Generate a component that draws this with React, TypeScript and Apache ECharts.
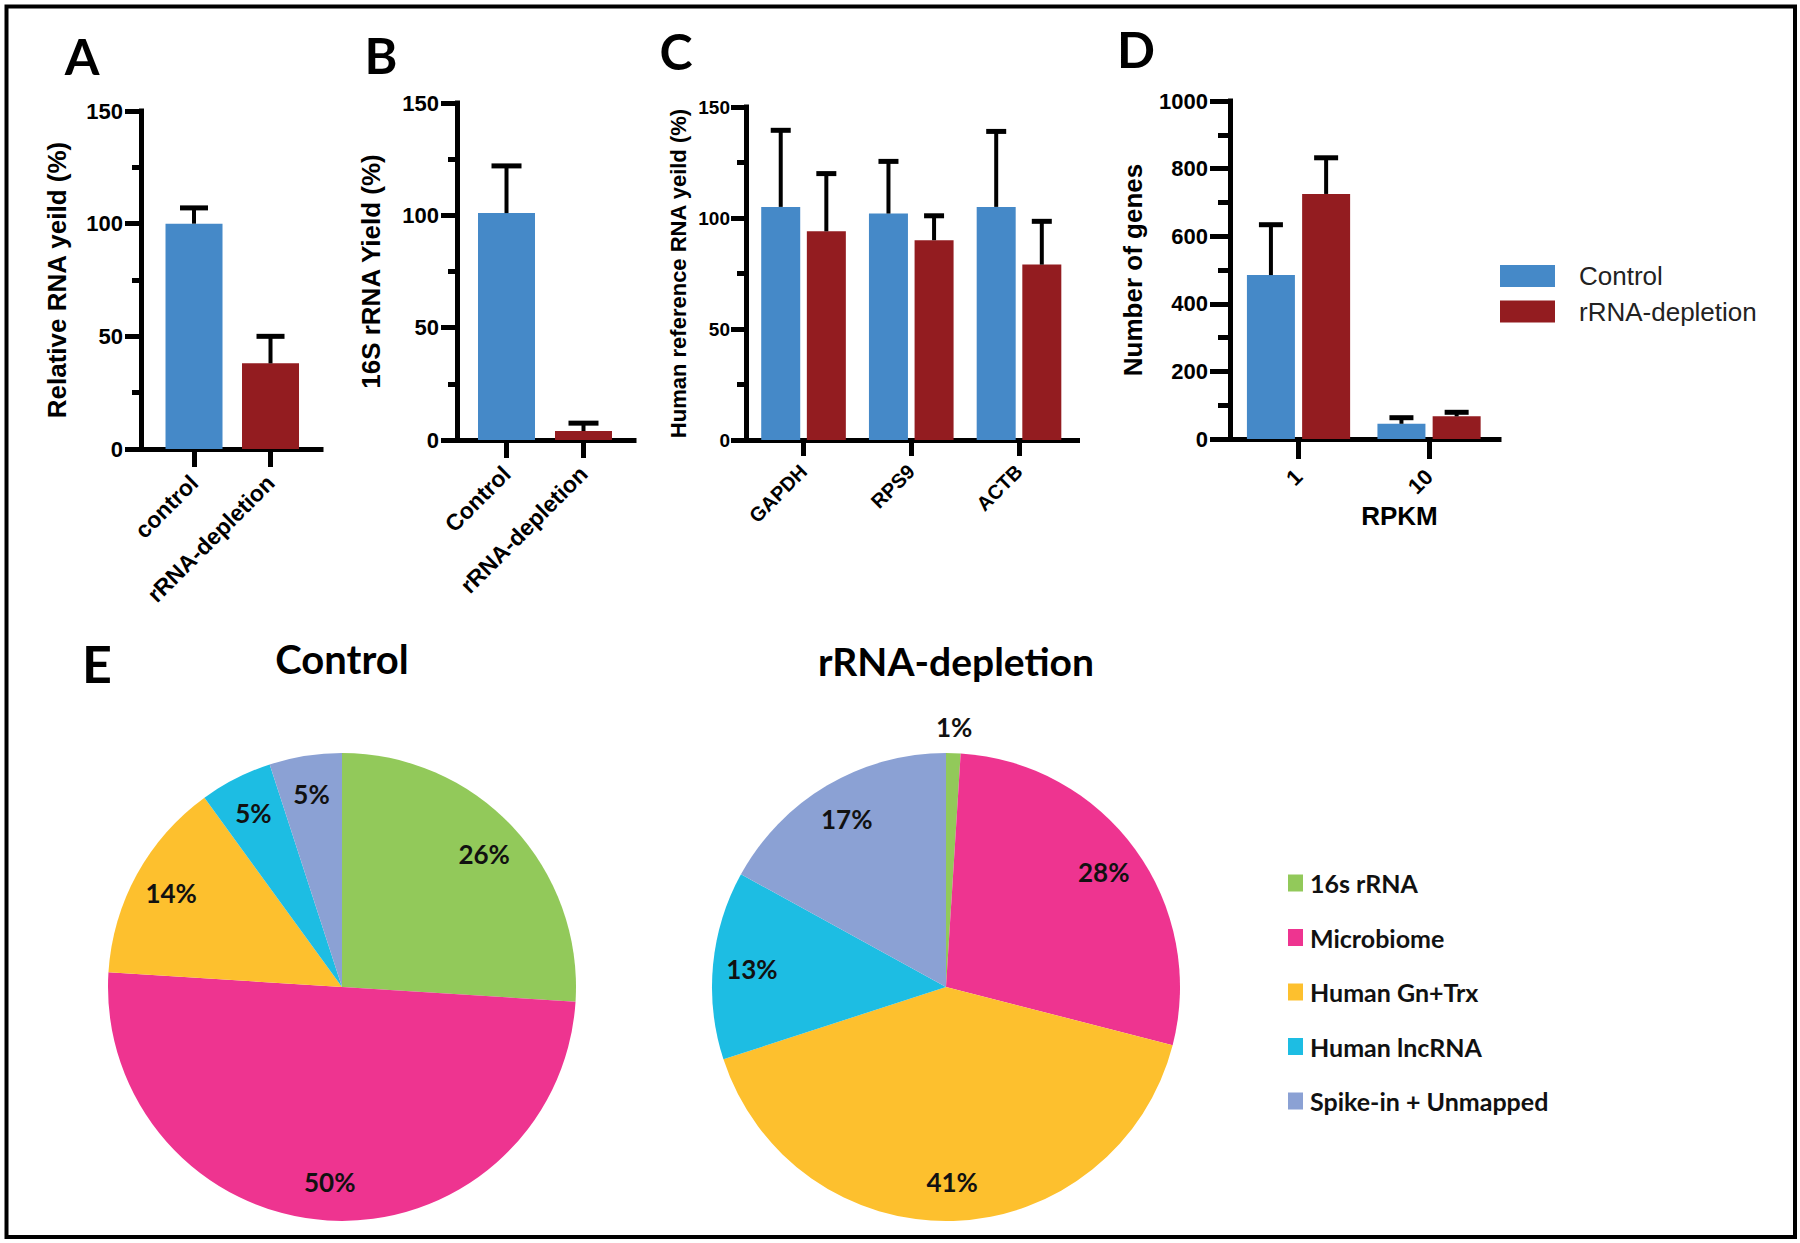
import React, { useEffect, useRef } from "react";
import * as echarts from "echarts";

// ---------- data ----------
const aCategories = ["control", "rRNA-depletion"];
const aValues = [100, 38];
const aErrors = [7, 12];

const bCategories = ["Control", "rRNA-depletion"];
const bValues = [101, 4];
const bErrors = [21, 3.5];

const cCategories = ["GAPDH", "RPS9", "ACTB"];
const cControl = [105, 102, 105];
const cControlErr = [34.5, 23.5, 34];
const cDepletion = [94, 90, 79];
const cDepletionErr = [26, 11, 19.5];

const dCategories = ["1", "10"];
const dControl = [485, 45];
const dControlErr = [149, 18];
const dDepletion = [725, 67];
const dDepletionErr = [107, 12];

const seriesNames = ["Control", "rRNA-depletion"];

const pieCategories = ["16s rRNA", "Microbiome", "Human Gn+Trx", "Human lncRNA", "Spike-in + Unmapped"];
const pieControl = [26, 50, 14, 5, 5];
const pieDepletion = [1, 28, 41, 13, 17];

// ---------- styles ----------
const BLUE = "#4589C8";
const RED = "#931C20";
const pieColors = ["#92C95A", "#EE3490", "#FDC02E", "#1DBDE3", "#8BA1D4"];
const SANS = "'Liberation Sans', Arial, Helvetica, sans-serif";
const CAL = "Lato, 'Open Sans', sans-serif";

function xAxisCfg(gridIndex: number, min: number, max: number, cats: string[], o: any) {
  const vals = cats.map((_, i) => i);
  return {
    type: "value",
    gridIndex,
    min,
    max,
    axisLine: { show: true, onZero: false, lineStyle: { color: "#000", width: 5, cap: "square" } },
    axisTick: { show: true, customValues: vals, length: o.tickLen, lineStyle: { color: "#000", width: 5 } },
    minorTick: { show: false },
    splitLine: { show: false },
    axisLabel: {
      show: true,
      customValues: vals,
      formatter: (v: number) => cats[Math.round(v)] ?? "",
      rotate: 45,
      margin: o.labelMargin,
      fontSize: o.labelSize,
      fontWeight: "bold",
      fontFamily: SANS,
      color: "#000",
    },
    ...(o.name
      ? {
          name: o.name,
          nameLocation: "middle",
          nameGap: o.nameGap,
          nameTextStyle: { fontSize: o.nameSize, fontWeight: "bold", fontFamily: SANS, color: "#000", padding: o.namePadding },
        }
      : {}),
  };
}

function yAxisCfg(gridIndex: number, max: number, interval: number, o: any) {
  return {
    type: "value",
    gridIndex,
    min: 0,
    max,
    interval,
    axisLine: { show: true, onZero: false, lineStyle: { color: "#000", width: 5, cap: "square" } },
    axisTick: { show: true, length: o.tickLen, lineStyle: { color: "#000", width: 5 } },
    minorTick: { show: true, splitNumber: 2, length: o.minorLen, lineStyle: { color: "#000", width: 5 } },
    splitLine: { show: false },
    minorSplitLine: { show: false },
    axisLabel: {
      fontSize: o.labelSize,
      fontWeight: "bold",
      fontFamily: SANS,
      color: "#000",
      margin: o.labelMargin,
      formatter: (v: number) => String(v),
    },
    name: o.name,
    nameLocation: "middle",
    nameRotate: 90,
    nameGap: o.nameGap,
    nameTextStyle: { fontSize: o.nameSize, fontWeight: "bold", fontFamily: SANS, color: "#000" },
  };
}

function errorSeries(idx: number, values: number[], errs: number[], offset: number, capHalf: number) {
  return {
    type: "custom",
    xAxisIndex: idx,
    yAxisIndex: idx,
    z: 5,
    silent: true,
    data: values.map((v, i) => [i, v, v + errs[i]]),
    renderItem: (_params: any, api: any) => {
      const base = api.coord([api.value(0), api.value(1)]);
      const top = api.coord([api.value(0), api.value(2)]);
      const x = base[0] + offset;
      return {
        type: "group",
        children: [
          { type: "line", shape: { x1: x, y1: base[1], x2: x, y2: top[1] }, style: { stroke: "#000", lineWidth: 4 } },
          { type: "line", shape: { x1: x - capHalf, y1: top[1], x2: x + capHalf, y2: top[1] }, style: { stroke: "#000", lineWidth: 5 } },
        ],
      };
    },
  };
}

function pieData(values: number[]) {
  return values.map((v, i) => ({ name: pieCategories[i], value: v, itemStyle: { color: pieColors[i] } }));
}

function pieSeries(center: number[], values: number[]) {
  const r = 234;
  const labelStyle = { color: "#111", fontSize: 26, fontWeight: "bold", fontFamily: CAL, formatter: "{c}%" };
  return [
    {
      type: "pie",
      center,
      radius: r,
      startAngle: 90,
      clockwise: true,
      silent: true,
      avoidLabelOverlap: false,
      label: { show: false },
      labelLine: { show: false },
      itemStyle: { borderWidth: 0 },
      data: pieData(values),
    },
    {
      type: "pie",
      center,
      radius: [150, r],
      startAngle: 90,
      clockwise: true,
      silent: true,
      avoidLabelOverlap: false,
      labelLine: { show: false },
      label: { show: true, position: "inside", ...labelStyle },
      itemStyle: { color: "rgba(0,0,0,0)", borderWidth: 0 },
      data: values.map((v, i) => ({
        name: pieCategories[i],
        value: v,
        itemStyle: { color: "rgba(0,0,0,0)" },
        label: { show: v >= 3 },
      })),
    },
    {
      type: "pie",
      center,
      radius: [r, r + 46],
      startAngle: 90,
      clockwise: true,
      silent: true,
      avoidLabelOverlap: false,
      labelLine: { show: false },
      label: { show: true, position: "inside", ...labelStyle },
      itemStyle: { color: "rgba(0,0,0,0)", borderWidth: 0 },
      data: values.map((v, i) => ({
        name: pieCategories[i],
        value: v,
        itemStyle: { color: "rgba(0,0,0,0)" },
        label: { show: v < 3 },
      })),
    },
  ];
}

function panelLetter(text: string, x: number, y: number, size = 50) {
  return {
    type: "text",
    x,
    y,
    style: { text, fontSize: size, fontWeight: "bold", fontFamily: CAL, fill: "#000", align: "center", verticalAlign: "middle" },
  };
}

export default function App() {
  const ref = useRef<HTMLDivElement>(null);

  useEffect(() => {
    document.body.style.margin = "0";
    if (!ref.current) return;
    const chart = echarts.init(ref.current, null, { renderer: "svg" });

    const option: any = {
      animation: false,
      backgroundColor: "#fff",
      grid: [
        { left: 141, top: 111, width: 180, height: 338 },
        { left: 457, top: 103, width: 177, height: 337 },
        { left: 746, top: 107, width: 331.5, height: 333 },
        { left: 1230, top: 101, width: 269, height: 338 },
      ],
      xAxis: [
        xAxisCfg(0, -0.693, 1.66, aCategories, { tickLen: 18, labelMargin: 30, labelSize: 23 }),
        xAxisCfg(1, -0.643, 1.656, bCategories, { tickLen: 18, labelMargin: 30, labelSize: 23 }),
        xAxisCfg(2, -0.534, 2.543, cCategories, { tickLen: 16, labelMargin: 28, labelSize: 20 }),
        xAxisCfg(3, -0.525, 1.536, dCategories, {
          tickLen: 20,
          labelMargin: 34,
          labelSize: 22,
          name: "RPKM",
          nameGap: 64,
          nameSize: 26,
          namePadding: [0, 0, 0, 70],
        }),
      ],
      yAxis: [
        yAxisCfg(0, 150, 50, { tickLen: 16, minorLen: 9, labelSize: 22, labelMargin: 18, name: "Relative RNA yeild (%)", nameGap: 71, nameSize: 26 }),
        yAxisCfg(1, 150, 50, { tickLen: 16, minorLen: 9, labelSize: 22, labelMargin: 18, name: "16S rRNA Yield (%)", nameGap: 73, nameSize: 26 }),
        yAxisCfg(2, 150, 50, { tickLen: 15, minorLen: 9, labelSize: 19, labelMargin: 16, name: "Human reference RNA yeild (%)", nameGap: 57, nameSize: 22 }),
        yAxisCfg(3, 1000, 200, { tickLen: 20, minorLen: 12, labelSize: 22, labelMargin: 22, name: "Number of genes", nameGap: 84, nameSize: 26 }),
      ],
      legend: [
        {
          data: seriesNames,
          orient: "vertical",
          left: 1495,
          top: 256,
          itemWidth: 55,
          itemHeight: 22,
          itemGap: 5.5,
          icon: "rect",
          selectedMode: false,
          textStyle: { fontSize: 26, fontFamily: SANS, color: "#222", lineHeight: 30, padding: [0, 0, 0, 19] },
        },
        {
          data: pieCategories,
          orient: "vertical",
          left: 1283,
          top: 863,
          itemWidth: 15,
          itemHeight: 17,
          itemGap: 24.5,
          icon: "rect",
          selectedMode: false,
          textStyle: { fontSize: 25, fontWeight: "bold", fontFamily: CAL, color: "#111", lineHeight: 30, padding: [0, 0, 0, 2] },
        },
      ],
      series: [
        {
          type: "bar",
          name: "A",
          xAxisIndex: 0,
          yAxisIndex: 0,
          barWidth: 57,
          data: aValues.map((v, i) => ({ value: [i, v], itemStyle: { color: i === 0 ? BLUE : RED } })),
        },
        errorSeries(0, aValues, aErrors, 0, 14),
        {
          type: "bar",
          name: "B",
          xAxisIndex: 1,
          yAxisIndex: 1,
          barWidth: 57,
          data: bValues.map((v, i) => ({ value: [i, v], itemStyle: { color: i === 0 ? BLUE : RED } })),
        },
        errorSeries(1, bValues, bErrors, 0, 15),
        {
          type: "bar",
          name: seriesNames[0],
          xAxisIndex: 2,
          yAxisIndex: 2,
          barWidth: 39,
          barGap: "17%",
          itemStyle: { color: BLUE },
          data: cControl.map((v, i) => [i, v]),
        },
        {
          type: "bar",
          name: seriesNames[1],
          xAxisIndex: 2,
          yAxisIndex: 2,
          barWidth: 39,
          barGap: "17%",
          itemStyle: { color: RED },
          data: cDepletion.map((v, i) => [i, v]),
        },
        errorSeries(2, cControl, cControlErr, -22.8, 10),
        errorSeries(2, cDepletion, cDepletionErr, 22.8, 10),
        {
          type: "bar",
          name: seriesNames[0],
          xAxisIndex: 3,
          yAxisIndex: 3,
          barWidth: 48,
          barGap: "15%",
          itemStyle: { color: BLUE },
          data: dControl.map((v, i) => [i, v]),
        },
        {
          type: "bar",
          name: seriesNames[1],
          xAxisIndex: 3,
          yAxisIndex: 3,
          barWidth: 48,
          barGap: "15%",
          itemStyle: { color: RED },
          data: dDepletion.map((v, i) => [i, v]),
        },
        errorSeries(3, dControl, dControlErr, -27.6, 12),
        errorSeries(3, dDepletion, dDepletionErr, 27.6, 12),
        ...pieSeries([342, 987], pieControl),
        ...pieSeries([946, 987], pieDepletion),
      ],
      graphic: [
        {
          type: "rect",
          shape: { x: 6.5, y: 6.5, width: 1788.5, height: 1230.5 },
          style: { fill: "none", stroke: "#000", lineWidth: 4 },
          silent: true,
        },
        panelLetter("A", 82, 56),
        panelLetter("B", 381, 55),
        panelLetter("C", 676, 51),
        panelLetter("D", 1136, 49),
        panelLetter("E", 97, 663, 52),
        {
          type: "text",
          x: 342,
          y: 659,
          style: { text: "Control", fontSize: 40, fontWeight: "bold", fontFamily: CAL, fill: "#000", align: "center", verticalAlign: "middle" },
        },
        {
          type: "text",
          x: 956,
          y: 661,
          style: { text: "rRNA-depletion", fontSize: 39, fontWeight: "bold", fontFamily: CAL, fill: "#000", align: "center", verticalAlign: "middle" },
        },
      ],
    };

    chart.setOption(option);
    return () => chart.dispose();
  }, []);

  return <div ref={ref} style={{ width: 1800, height: 1243, background: "#fff" }} />;
}
